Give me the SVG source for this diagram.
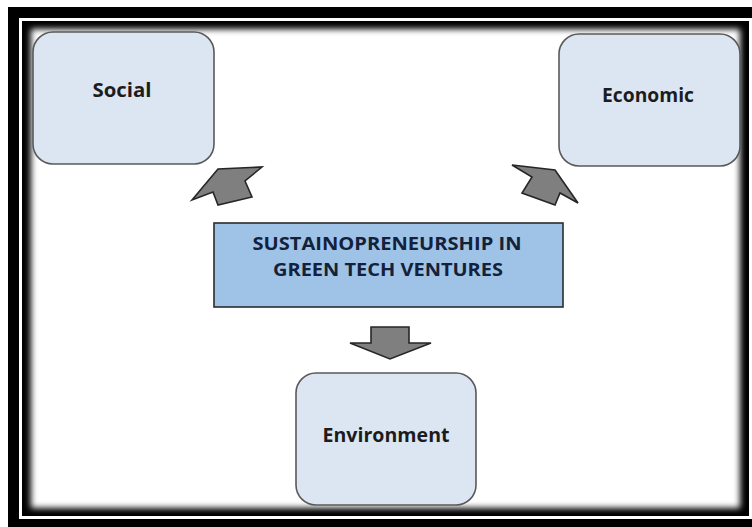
<svg xmlns="http://www.w3.org/2000/svg" width="752" height="527" viewBox="0 0 752 527">
<defs>
<style>
.node rect{fill:#dce6f2;stroke:#595959;stroke-width:1.6}
.lbl{font-family:"Open Sans","Liberation Sans",sans-serif;font-weight:700;font-size:19px;fill:#1c1c1c;text-anchor:middle}
.title{font-family:"Open Sans","Liberation Sans",sans-serif;font-weight:700;font-size:18.5px;fill:#14213a;text-anchor:middle}
.arrow{fill:#7f7f7f;stroke:#262626;stroke-width:1.6;stroke-linejoin:miter}
</style>
<filter id="soft" x="-5%" y="-5%" width="110%" height="110%"><feGaussianBlur stdDeviation="3"/></filter>
</defs>
<g id="frame">
<rect x="0" y="0" width="752" height="527" fill="#ffffff"/>
<rect x="8" y="7" width="760" height="540" fill="#000000"/>
<rect x="19" y="18" width="740" height="501" fill="#ffffff"/>
<rect x="22" y="21" width="727" height="495" fill="#000000"/>
<rect x="31" y="29" width="709" height="479" fill="#ffffff" filter="url(#soft)"/>
</g>
<g id="connectors">
<polygon class="arrow" points="192,200 218,169 262,167 245,181 252,197 218,205 213,192"/>
<polygon class="arrow" points="512,165 555,170 578,203 560,193 555,205 522,193 532,177"/>
<polygon class="arrow" points="371,327 409,327 409,343 431,343 390,359 350,343 371,343"/>
</g>
<g id="center">
<rect x="214" y="223" width="349" height="84" fill="#9fc3e7" stroke="#2b2b2b" stroke-width="1.6"/>
<text class="title" x="387" y="250" textLength="269" lengthAdjust="spacingAndGlyphs">SUSTAINOPRENEURSHIP IN</text>
<text class="title" x="388" y="276" textLength="230" lengthAdjust="spacingAndGlyphs">GREEN TECH VENTURES</text>
</g>
<g id="social" class="node">
<rect x="33" y="32" width="181" height="132" rx="20" ry="20"/>
<text class="lbl" x="122" y="97" textLength="59" lengthAdjust="spacingAndGlyphs">Social</text>
</g>
<g id="economic" class="node">
<rect x="559" y="34" width="181" height="132" rx="20" ry="20"/>
<text class="lbl" x="648" y="102" textLength="92" lengthAdjust="spacingAndGlyphs">Economic</text>
</g>
<g id="environment" class="node">
<rect x="296" y="373" width="180" height="132" rx="20" ry="20"/>
<text class="lbl" x="386" y="442" textLength="127" lengthAdjust="spacingAndGlyphs">Environment</text>
</g>
</svg>
